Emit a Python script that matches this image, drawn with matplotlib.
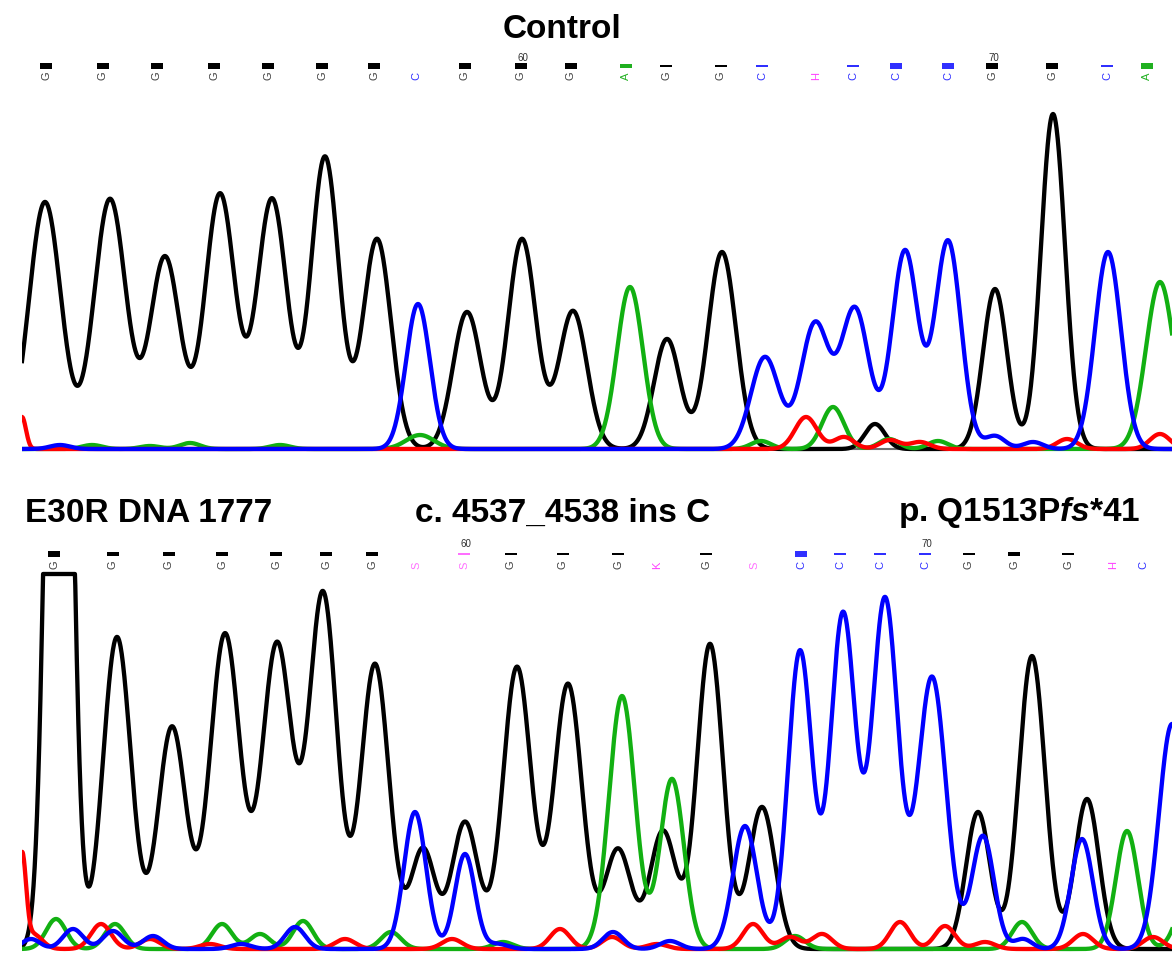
import numpy as np
import matplotlib
matplotlib.use("Agg")
import matplotlib.pyplot as plt
from matplotlib.patches import Rectangle
from matplotlib import transforms

plt.rcParams['font.family'] = ['Liberation Sans', 'DejaVu Sans']
plt.rcParams['mathtext.fontset'] = 'custom'
plt.rcParams['mathtext.it'] = 'Liberation Sans:italic:bold'
plt.rcParams['mathtext.rm'] = 'Liberation Sans:bold'

# peaks: (scan position, signal height, peak width)
# ---- Control ----
ctrl_G = [(45, 247, 16), (110, 250, 16), (165, 192, 15), (220, 255, 15), (272, 250, 15),
          (325, 292, 14), (377, 210, 14), (467, 137, 14), (522, 210, 14), (573, 138, 14),
          (667, 110, 13), (722, 197, 14), (875, 25, 10), (995, 160, 12), (1053, 335, 12)]
ctrl_C = [(60, 4, 10), (418, 145, 12), (765, 92, 14), (815, 125, 14), (855, 140, 14),
          (905, 198, 13), (948, 208, 13), (995, 13, 10), (1033, 7, 10), (1108, 197, 13)]
ctrl_A = [(92, 4, 10), (150, 3, 10), (190, 6, 10), (280, 4, 10), (420, 14, 14),
          (630, 162, 13), (761, 8, 10), (833, 42, 11), (889, 10, 10), (938, 8, 10),
          (1160, 167, 14)]
ctrl_T = [(22, 32, 4), (806, 32, 11), (844, 12, 10), (890, 9, 10), (920, 7, 10),
          (1067, 10, 10), (1160, 15, 10)]

# ---- E30R DNA 1777 ----
mut_G = [(59, 1200, 10.5), (117, 312, 14), (172, 222, 14), (225, 315, 15), (277, 305, 15),
         (323, 355, 14), (375, 285, 14), (423, 100, 12), (465, 127, 13), (517, 282, 14),
         (568, 265, 14), (618, 100, 13), (663, 118, 13), (710, 305, 13), (762, 142, 13),
         (978, 137, 12), (1032, 293, 13), (1087, 150, 12)]
mut_C = [(31, 10, 9), (73, 20, 10), (113, 18, 10), (153, 13, 10), (241, 5, 10), (295, 22, 10),
         (415, 137, 11), (465, 95, 10), (498, 5, 10), (613, 17, 10), (670, 8, 10),
         (745, 123, 12), (800, 298, 12), (843, 335, 12.5), (885, 350, 13), (932, 272, 14),
         (983, 113, 11), (1023, 10, 9), (1082, 110, 11), (1172, 225, 13)]
mut_A = [(56, 30, 10), (115, 25, 10), (222, 25, 10), (260, 15, 10), (303, 28, 10),
         (391, 17, 10), (503, 7, 10), (622, 253, 13), (672, 170, 12), (795, 13, 10),
         (1022, 27, 10), (1127, 118, 11), (1190, 60, 12)]
mut_T = [(22, 90, 4), (33, 15, 9), (101, 25, 10), (150, 10, 10), (210, 5, 10), (345, 10, 10),
         (452, 10, 10), (560, 20, 10), (612, 12, 10), (657, 5, 10), (753, 25, 10),
         (790, 12, 10), (822, 15, 10), (900, 27, 10), (945, 23, 10), (985, 7, 10),
         (1083, 15, 10), (1153, 12, 10)]

# base calls: (position, base, quality 0-1)
ctrl_calls = [(46, 'G', 1), (103, 'G', 1), (157, 'G', 1), (214, 'G', 1), (268, 'G', 1),
              (322, 'G', 1), (374, 'G', 1), (416, 'C', 0), (465, 'G', 1), (521, 'G', 1),
              (571, 'G', 1), (626, 'A', 0.6), (666, 'G', 0.3), (721, 'G', 0.3), (762, 'C', 0.3),
              (816, 'H', 0), (853, 'C', 0.3), (896, 'C', 1), (948, 'C', 1), (992, 'G', 1),
              (1052, 'G', 1), (1107, 'C', 0.3), (1147, 'A', 1)]
mut_calls = [(54, 'G', 1), (113, 'G', 0.8), (169, 'G', 0.8), (222, 'G', 0.8), (276, 'G', 0.8),
             (326, 'G', 0.8), (372, 'G', 0.8), (416, 'S', 0), (464, 'S', 0.3), (511, 'G', 0.3),
             (563, 'G', 0.3), (618, 'G', 0.3), (657, 'K', 0), (706, 'G', 0.3), (754, 'S', 0),
             (801, 'C', 1), (840, 'C', 0.4), (880, 'C', 0.4), (925, 'C', 0.4), (969, 'G', 0.3),
             (1014, 'G', 0.6), (1068, 'G', 0.3), (1113, 'H', 0), (1143, 'C', 0)]
ctrl_ticks = [(521, '60'), (992, '70')]
mut_ticks = [(464, '60'), (925, '70')]

trace_col = {'G': '#000000', 'C': '#0000ff', 'A': '#12b012', 'T': '#ff0000'}
call_col = {'G': '#404040', 'C': '#3030ff', 'A': '#20b020', 'T': '#ff2020',
            'H': '#ff40ff', 'S': '#ff70ff', 'K': '#ff40ff'}

W, H = 1172, 954
fig = plt.figure(figsize=(W / 100, H / 100), dpi=100)
x = np.linspace(22, 1172, 3000)


def trace(peaks):
    y = np.zeros_like(x)
    for c, h, s in peaks:
        y += h * np.exp(-(x - c) ** 2 / (2 * s ** 2))
    return y


def panel(top_px, base_px, peaks, ymax, clip=None):
    ax = fig.add_axes([22 / W, (H - base_px - 4) / H, 1150 / W, (base_px + 4 - top_px) / H])
    ax.set_xlim(22, 1172)
    ax.set_ylim(-4, ymax)
    ax.axis('off')
    for b in ['G', 'A', 'T', 'C']:
        y = trace(peaks[b])
        if clip is not None:
            y = np.minimum(y, clip)
        ax.plot(x, y, color=trace_col[b], lw=3.1, solid_joinstyle='round', zorder=3)
    return ax


def calls_row(ax, calls, ticks, y_letter, y_bar, y_tick):
    tr = transforms.blended_transform_factory(ax.transData, fig.transFigure)
    for pos, b, q in calls:
        col = call_col[b]
        ax.text(pos, 1 - y_letter / H, b, transform=tr, rotation=90, fontsize=8,
                color=col, ha='center', va='center', clip_on=False)
        if q > 0:
            hb = 5.5 * q
            ax.add_patch(Rectangle((pos - 6, 1 - (y_bar + hb / 2) / H), 12, hb / H,
                                   transform=tr, color=col if b != 'G' else '#000000',
                                   lw=0, clip_on=False))
    for pos, t in ticks:
        ax.text(pos + 2, 1 - y_tick / H, t, transform=tr, fontsize=7, color='#303030',
                ha='center', va='center', clip_on=False)


ax1 = panel(100, 450, {'G': ctrl_G, 'C': ctrl_C, 'A': ctrl_A, 'T': ctrl_T}, 350)
ax1.axhline(0, color='#707070', lw=1.5, zorder=2)
calls_row(ax1, ctrl_calls, ctrl_ticks, 76, 67, 58)

ax2 = panel(572, 950, {'G': mut_G, 'C': mut_C, 'A': mut_A, 'T': mut_T}, 378, clip=375)
calls_row(ax2, mut_calls, mut_ticks, 565, 555, 544)

fig.text(562 / W, 1 - 29 / H, 'Control', fontsize=24, fontweight='bold', ha='center', va='center')
fig.text(25 / W, 1 - 513 / H, 'E30R DNA 1777', fontsize=24, fontweight='bold', ha='left', va='center')
fig.text(415 / W, 1 - 513 / H, 'c. 4537_4538 ins C', fontsize=24, fontweight='bold', ha='left', va='center')
fig.text(1140 / W, 1 - 513 / H, r'p. Q1513P$\mathit{fs}$*41', fontsize=24, fontweight='bold',
         ha='right', va='center')

fig.savefig('out.png', dpi=100)
